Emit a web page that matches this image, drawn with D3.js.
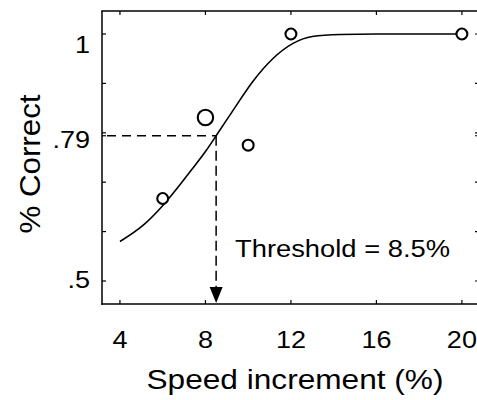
<!DOCTYPE html>
<html>
<head>
<meta charset="utf-8">
<script src="https://cdn.jsdelivr.net/npm/d3@7"></script>
<style>
  html, body { margin: 0; padding: 0; background: #fff; }
  svg { display: block; }
  text { font-family: "Liberation Sans", Arial, Helvetica, sans-serif; fill: #000; }
</style>
</head>
<body>
<svg id="chart" width="477" height="400"></svg>
<script>
// Observed proportion correct per speed increment
const speedIncrements = [6, 8, 10, 12, 20];
const proportionCorrect = [0.667, 0.831, 0.775, 1.0, 1.0];
const blockCounts = [1, 2, 1, 1, 1];

// Fitted psychometric function, sampled
const fitX = [4.0, 5.09, 6.03, 7.35, 8.0, 8.5, 9.3, 10.2, 11.15, 12.1, 13.0, 14.3, 16.0, 20.0];
const fitY = [0.580, 0.613, 0.654, 0.725, 0.762, 0.794, 0.846, 0.903, 0.950, 0.981, 0.995, 0.999, 1.0, 1.0];

const threshold = 8.5;
const thresholdLevel = 0.794;

// Axis ticks and labels
const xTicks = [4, 8, 12, 16, 20];
const yTicks = [0.5, 0.6, 0.7, 0.8, 0.9, 1.0, thresholdLevel];
const yLabelValues = [1.0, thresholdLevel, 0.5];
const yLabelTexts = ["1", ".79", ".5"];

const svg = d3.select("#chart");

const x = d3.scaleLinear().domain([3.16, 20.8]).range([102, 479]);
const y = d3.scaleLinear().domain([0.4534, 1.0466]).range([304, 11]);
const r = d3.scaleSqrt().domain([0, 2]).range([0, 7.7]);

const [xl, xr] = x.range();
const [yb, yt] = y.range();
const tickLen = 4;
const stretch = 1.16;

// Axis frame with inward ticks
const axisG = svg.append("g").attr("stroke", "#000").attr("stroke-width", 1.5).attr("fill", "none");
axisG.append("line").attr("x1", xl).attr("x2", xl).attr("y1", yt).attr("y2", yb + 0.75);
axisG.append("line").attr("x1", xr).attr("x2", xr).attr("y1", yt).attr("y2", yb);
axisG.append("line").attr("x1", xl - 0.75).attr("x2", xr).attr("y1", yb).attr("y2", yb);
axisG.append("line").attr("x1", xl - 0.75).attr("x2", xr).attr("y1", yt).attr("y2", yt);

const tickG = svg.append("g").attr("stroke", "#000").attr("stroke-width", 1.2);
xTicks.forEach(v => {
  tickG.append("line").attr("x1", x(v)).attr("x2", x(v)).attr("y1", yb).attr("y2", yb - tickLen);
  tickG.append("line").attr("x1", x(v)).attr("x2", x(v)).attr("y1", yt).attr("y2", yt + tickLen);
});
yTicks.forEach(v => {
  tickG.append("line").attr("x1", xl).attr("x2", xl + tickLen).attr("y1", y(v)).attr("y2", y(v));
  tickG.append("line").attr("x1", xr).attr("x2", xr - tickLen).attr("y1", y(v)).attr("y2", y(v));
});

// Tick labels (set in a slightly wide face)
xTicks.forEach(v => {
  svg.append("text")
    .attr("transform", `translate(${x(v)},348) scale(${stretch},1)`)
    .attr("text-anchor", "middle")
    .attr("font-size", 23.3)
    .text(v);
});
const labelShift = { "1": 11, ".79": 4, ".5": -1 };
yLabelValues.forEach((v, i) => {
  const t = yLabelTexts[i];
  svg.append("text")
    .attr("transform", `translate(90,${y(v) + 8.2 + labelShift[t]}) scale(${stretch},1)`)
    .attr("text-anchor", "end")
    .attr("font-size", 23.3)
    .text(t);
});

// Axis titles
svg.append("text")
  .attr("x", 295).attr("y", 389)
  .attr("text-anchor", "middle")
  .attr("font-size", 27)
  .attr("textLength", 297)
  .attr("lengthAdjust", "spacingAndGlyphs")
  .text("Speed increment (%)");

svg.append("text")
  .attr("transform", "translate(40,164) rotate(-90)")
  .attr("text-anchor", "middle")
  .attr("font-size", 30)
  .attr("textLength", 139)
  .attr("lengthAdjust", "spacingAndGlyphs")
  .text("% Correct");

// Threshold guides: dashed lines from the axis to the fit, arrow down to the x axis
const tx = x(threshold), ty = y(thresholdLevel);
const guide = svg.append("g").attr("stroke", "#000").attr("stroke-width", 1.5).attr("fill", "none");
guide.append("line")
  .attr("x1", xl).attr("x2", tx).attr("y1", ty).attr("y2", ty)
  .attr("stroke-dasharray", "9,6").attr("stroke-dashoffset", -5);
const arrowH = 17, arrowW = 6.5;
guide.append("line")
  .attr("x1", tx).attr("x2", tx).attr("y1", ty).attr("y2", yb - arrowH)
  .attr("stroke-dasharray", "10,5");
svg.append("path")
  .attr("d", `M${tx - arrowW},${yb - arrowH}L${tx + arrowW},${yb - arrowH}L${tx},${yb - 1}Z`)
  .attr("fill", "#000");

svg.append("text")
  .attr("x", 235).attr("y", 257)
  .attr("font-size", 23.3)
  .attr("textLength", 215)
  .attr("lengthAdjust", "spacingAndGlyphs")
  .text(`Threshold = ${threshold}%`);

// Fitted curve
const fitPts = fitX.map((v, i) => [v, fitY[i]]);
svg.append("path")
  .datum(fitPts)
  .attr("fill", "none")
  .attr("stroke", "#000")
  .attr("stroke-width", 1.6)
  .attr("d", d3.line().x(d => x(d[0])).y(d => y(d[1])).curve(d3.curveMonotoneX));

// Data points
svg.append("g")
  .selectAll("circle")
  .data(speedIncrements.map((v, i) => ({ s: v, p: proportionCorrect[i], n: blockCounts[i] })))
  .join("circle")
  .attr("cx", d => x(d.s))
  .attr("cy", d => y(d.p))
  .attr("r", d => r(d.n))
  .attr("fill", "#fff")
  .attr("stroke", "#000")
  .attr("stroke-width", 2.1);
</script>
</body>
</html>
